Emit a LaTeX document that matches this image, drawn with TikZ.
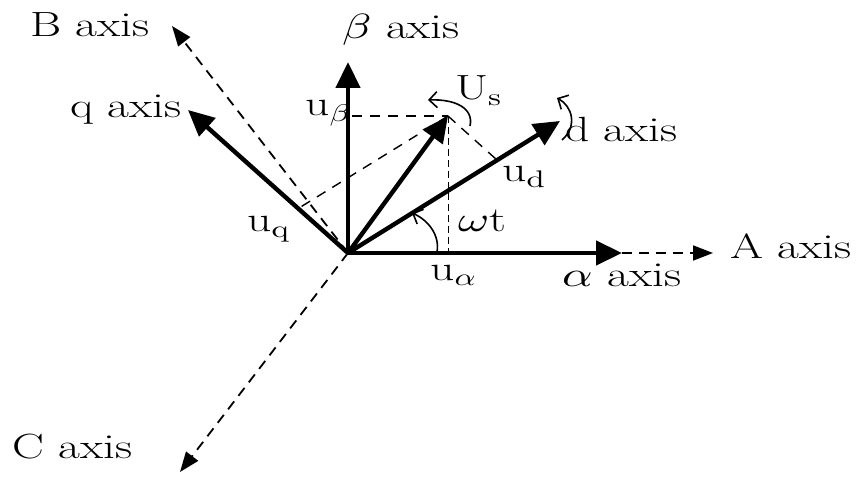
\documentclass[tikz,border=0pt]{standalone}
\usepackage{graphicx}
\usetikzlibrary{arrows.meta}
\DeclareFontShape{OML}{cmm}{m}{it}{<->cmmi10}{}
\DeclareFontShape{OT1}{cmr}{m}{n}{<->cmr10}{}
\DeclareFontShape{OMS}{cmsy}{m}{n}{<->cmsy10}{}
\DeclareMathSizes{35}{35}{24}{18}
\newcommand{\lbl}[1]{\scalebox{1.36}[1]{#1}}
\begin{document}
\begin{tikzpicture}[x=1pt,y=-1pt,
  lab/.style={inner sep=0pt, anchor=base west, font=\fontsize{35}{42}\selectfont},
  thickarrow/.style={line width=4.4pt, -{Triangle[length=26pt,width=24pt]}},
  axisdash/.style={line width=1.8pt, dash pattern=on 10pt off 7pt, -{Triangle[length=20pt,width=15pt]}},
  projdash/.style={line width=1.4pt, dash pattern=on 10pt off 8pt},
  finedash/.style={line width=1pt, dash pattern=on 7pt off 4pt},
  rotarrow/.style={line width=1.6pt, -{Straight Barb[length=8pt,width=16pt]}}
]
\useasboundingbox (0,0) rectangle (859,478);
% key points
\coordinate (O) at (348,253);
\coordinate (alpha) at (622,253);
\coordinate (A) at (713,253);
\coordinate (beta) at (348,62);
\coordinate (q) at (188,110);
\coordinate (d) at (560,121);
\coordinate (Us) at (448,116);
\coordinate (B) at (172,26);
\coordinate (C) at (180,472);
\coordinate (pd) at (497,160);
\coordinate (pq) at (299,208);
\coordinate (ub) at (352,116);
\coordinate (ua) at (448,253);
% dashed phase axes
\draw[axisdash] (O) -- (B);
\draw[axisdash] (O) -- (C);
\draw[axisdash] (alpha) -- (A);
% projection lines
\draw[projdash] (ub) -- (Us);
\draw[projdash] (Us) -- (pd);
\draw[projdash] (Us) -- (pq);
\draw[finedash] (Us) -- (ua);
% main arrows
\draw[thickarrow] (O) -- (alpha);
\draw[thickarrow] (O) -- (beta);
\draw[thickarrow] (O) -- (q);
\draw[thickarrow] (O) -- (d);
\draw[thickarrow] (O) -- (Us);
% rotation arrows
\coordinate (r1s) at (470,126); \coordinate (r1e) at (428,100);
\draw[rotarrow] (r1s) .. controls (474,108) and (455,99) .. (r1e);
\coordinate (r2s) at (562,140); \coordinate (r2e) at (557,98);
\draw[rotarrow] (r2s) .. controls (578,126) and (572,106) .. (r2e);
\coordinate (r3s) at (437,252); \coordinate (r3e) at (412,213);
\draw[rotarrow] (r3s) .. controls (440,235) and (428,220) .. (r3e);
% labels
\node[lab] (tB) at (30,37) {\lbl{B axis}};
\node[lab] (tbeta) at (342,39) {\lbl{$\beta$ axis}};
\node[lab] (tq) at (70,118) {\lbl{q axis}};
\node[lab] (td) at (565,142) {\lbl{d axis}};
\node[lab] (tA) at (730,259) {\lbl{A axis}};
\node[lab] (talpha) at (562,287) {\lbl{$\alpha$ axis}};
\node[lab] (tC) at (12,458) {\lbl{C axis}};
\node[lab] (tUs) at (455,100) {\lbl{U$_\mathrm{s}$}};
\node[lab] (tub) at (305,116) {\lbl{u$_\beta$}};
\node[lab] (tud) at (502,182) {\lbl{u$_\mathrm{d}$}};
\node[lab] (twt) at (458,232) {\lbl{$\omega$t}};
\node[lab] (tua) at (430,280) {\lbl{u$_\alpha$}};
\node[lab] (tuq) at (247,232) {\lbl{u$_\mathrm{q}$}};
\end{tikzpicture}
\end{document}
